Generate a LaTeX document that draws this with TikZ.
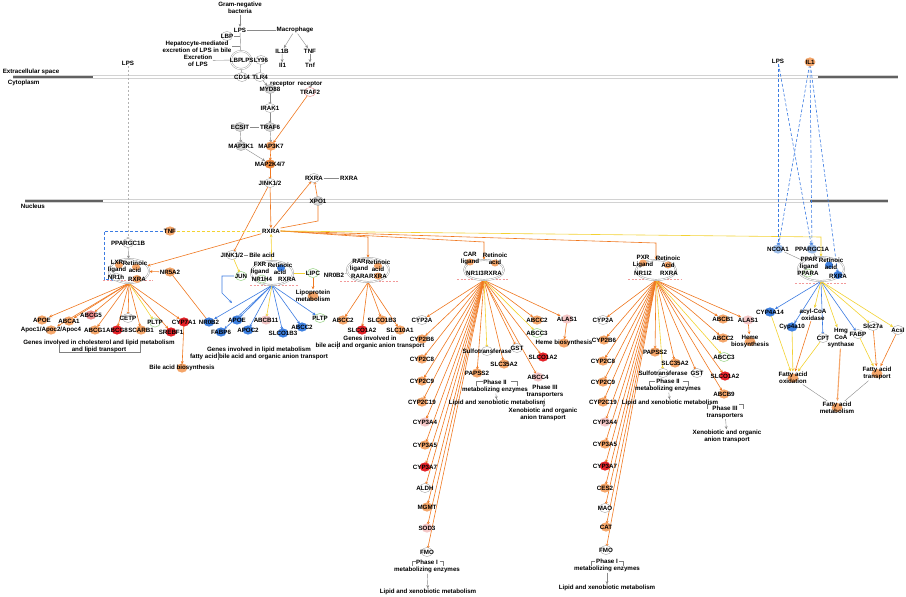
\documentclass[tikz,border=0pt]{standalone}
\usepackage{fontspec}
\setmainfont{Liberation Sans}
\usetikzlibrary{arrows.meta,shapes.geometric}
\pgfdeclarelayer{back}
\pgfsetlayers{back,main}
\definecolor{orl}{HTML}{F5A66A}
\definecolor{ord}{HTML}{EE8A40}
\definecolor{rdf}{HTML}{E52228}
\definecolor{pkf}{HTML}{F4C7C7}
\definecolor{pkm}{HTML}{E98A8A}
\definecolor{pkd}{HTML}{F29A9A}
\definecolor{blf}{HTML}{3E80E0}
\definecolor{lbf}{HTML}{9DBDE8}
\definecolor{gyf}{HTML}{D6D6D6}
\definecolor{grl}{HTML}{A6D995}
\definecolor{eor}{HTML}{F07820}
\definecolor{eye}{HTML}{F3D232}
\definecolor{ebl}{HTML}{3C7CE2}
\definecolor{egy}{HTML}{8A8A8A}
\tikzset{
  lbl/.style={font=\fontsize{6.2}{7}\selectfont\bfseries, inner sep=0.6pt, align=center, text=black},
  cpx/.style={ellipse, draw=gray!75, double=white, double distance=0.9pt, line width=0.45pt, inner sep=0pt},
  sor/.style={fill=orl},
  sod/.style={fill=ord},
  srd/.style={fill=rdf},
  spk/.style={fill=pkf},
  spm/.style={fill=pkm},
  sbl/.style={fill=blf},
  slb/.style={fill=lbf},
  sgy/.style={fill=gyf, draw=gray!80, line width=0.3pt},
  swo/.style={fill=white, draw=gray!70, line width=0.4pt},
  sgr/.style={fill=white, draw=grl, line width=0.6pt},
  spo/.style={fill=white, draw=pkm, line width=0.4pt},
  arrtip/.style={-{Stealth[length=3.2pt,width=2.8pt]}},
  eo/.style={draw=eor, line width=0.6pt, arrtip},
  eol/.style={draw=eor, line width=0.6pt},
  ey/.style={draw=eye, line width=0.6pt, arrtip},
  eyl/.style={draw=eye, line width=0.6pt},
  eb/.style={draw=ebl, line width=0.6pt, arrtip},
  eg/.style={draw=egy, line width=0.4pt, arrtip},
  egl/.style={draw=egy, line width=0.4pt},
  ebd/.style={draw=ebl, line width=0.6pt, dash pattern=on 3pt off 2pt, arrtip},
  egd/.style={draw=gray!60, line width=0.7pt, dash pattern=on 2.5pt off 1.5pt, arrtip},
  eyd/.style={draw=eye, line width=0.7pt, dash pattern=on 3pt off 2pt},
  pkdash/.style={draw=pkd, line width=0.6pt, dash pattern=on 2pt off 1.5pt},
  brk/.style={draw=gray, line width=0.4pt},
}
\newcommand\mkg[5]{\path[#4] (#2,#3) ellipse (5.4pt and 4.6pt); \node[lbl] (#1) at (#2,#3) {#5};}
\newcommand\mkt[4]{\node[lbl] (#1) at (#2,#3) {#4};}
\newcommand\mkb[4]{\draw[brk] (#1,#3+5) -- (#1,#3) -- ({(#1+#2)/2-#4},#3); \draw[brk] ({(#1+#2)/2+#4},#3) -- (#2,#3) -- (#2,#3+5);}
\begin{document}
\begin{tikzpicture}[x=1pt,y=-1pt]
\useasboundingbox (0,0) rectangle (906,597);
\begin{pgfonlayer}{back}
\fill[white] (0,0) rectangle (906,597);
\draw[gray!35, line width=0.5pt] (13,75.6) -- (898,75.6) (13,78.4) -- (898,78.4);
\draw[black!62, line width=2.4pt] (13,77) -- (93,77) (818,77) -- (898,77);
\draw[gray!35, line width=0.5pt] (25,199.6) -- (888,199.6) (25,202.4) -- (888,202.4);
\draw[black!62, line width=2.4pt] (25,201) -- (103,201) (810,201) -- (888,201);
\draw[pkdash] (103,280) -- (153,280);
\draw[pkdash] (250,285) -- (298,285);
\draw[pkdash] (340,281) -- (398,281);
\draw[pkdash] (457,279) -- (508,279);
\draw[pkdash] (628,279) -- (682,279);
\draw[pkdash] (795,283) -- (846,283);
\end{pgfonlayer}

\node[lbl, anchor=west] (exsp) at (2,72) {Extracellular space};
\node[lbl, anchor=west] (cyto) at (7,82.5) {Cytoplasm};
\node[lbl, anchor=west] (nucl) at (20,206) {Nucleus};

% complexes
\node[cpx, minimum width=20pt, minimum height=18pt] (cx1) at (241,60) {};
\node[cpx, minimum width=40pt, minimum height=24pt] (lxrcx) at (129,271) {};
\node[cpx, minimum width=42pt, minimum height=24pt] (fxrcx) at (272,273) {};
\node[cpx, minimum width=42pt, minimum height=24pt] (rarcx) at (368,270) {};
\node[cpx, minimum width=40pt, minimum height=20pt] (carcx) at (484,270) {};
\node[cpx, minimum width=40pt, minimum height=20pt] (pxrcx) at (656,270) {};
\node[cpx, minimum width=46pt, minimum height=24pt] (pparcx) at (821,269) {};

% top / cytoplasm
\mkt{gnb}{240}{8}{Gram-negative\\bacteria}
\mkt{lpst}{240}{30}{LPS}
\mkt{mac}{295}{30}{Macrophage}
\mkg{lbp}{227}{36}{swo}{LBP}
\mkt{hep}{197}{46.5}{Hepatocyte-mediated\\excretion of LPS in bile}
\mkt{il1b}{282}{51}{IL1B}
\mkt{tnf}{310}{51}{TNF}
\mkt{exc}{198}{60.5}{Excretion\\of LPS}
\mkt{lbpin}{236}{60}{LBP}
\mkt{lpsin}{247.5}{60}{LPS}
\mkg{ly96}{261}{60}{swo}{LY96}
\mkg{cd14}{242}{77}{swo}{CD14}
\mkg{tlr4}{260}{77}{swo}{TLR4}
\mkt{il1r}{282.5}{75}{Il1\\[11pt]receptor}
\mkt{tnfr}{310}{75}{Tnf\\[11pt]receptor}
\mkg{myd88}{270}{89}{sgy}{MYD88}
\mkg{traf2}{310}{92}{spo}{TRAF2}
\mkg{irak1}{270}{108}{swo}{IRAK1}
\mkg{traf6}{270}{127}{sgy}{TRAF6}
\mkg{ecsit}{240}{127}{sgy}{ECSIT}
\mkg{map3k1}{241}{146}{sgy}{MAP3K1}
\mkg{map3k7}{271}{146}{sor}{MAP3K7}
\mkg{map2k}{270}{164}{sod}{MAP2K4/7}
\mkg{jnk}{270}{183}{swo}{JINK1/2}
\mkg{rxu}{314}{178}{swo}{RXRA}
\mkt{rxr2}{349}{178}{RXRA}
\mkg{xpo1}{318}{201}{sgy}{XPO1}
\mkt{lpsl}{128}{63}{LPS}

% nucleus left
\mkg{pgc1b}{128}{243}{swo}{PPARGC1B}
\mkg{tnfn}{170}{231}{sor}{TNF}
\mkt{rx}{271}{231}{RXRA}
\mkg{jnkn}{232}{255}{swo}{JINK1/2}
\mkt{bile}{262}{255}{Bile acid}
\mkg{jun}{241}{276}{sgr}{JUN}
\mkg{nr5a2}{170}{272}{sor}{NR5A2}
\mkg{lipc}{313}{273}{sgr}{LIPC}
\mkt{nr0b2m}{334}{275}{NR0B2}
\mkg{lipo}{313}{296}{sor}{Lipoprotein\\metabolism}

% complex members
\path[sor] (119,265) ellipse (4pt and 3.5pt); \path[sor] (136,267) ellipse (4pt and 3.5pt);
\path[swo] (116,277) ellipse (4.6pt and 4pt); \path[sor] (137,279) ellipse (4.6pt and 4pt);
\mkt{lxrl}{117}{266.5}{LXR\\ligand}
\mkt{lxra}{135}{266.5}{Retinoic\\acid}
\mkt{nr1h}{116}{277}{NR1h}
\mkt{lxrrx}{137}{279}{RXRA}
\path[sbl] (281,268) ellipse (4pt and 3.5pt); \path[sgr] (262,279) ellipse (4.6pt and 4pt);
\mkt{fxrl}{260}{268.5}{FXR\\ligand}
\mkt{fxra}{280}{268.5}{Retinoic\\acid}
\mkt{nr1h4}{262}{279}{NR1H4}
\mkt{fxrrx}{287}{279}{RXRA}
\path[sor] (378,266) ellipse (4pt and 3.5pt); \path[sor] (378,276) ellipse (4pt and 3.5pt);
\mkt{rarl}{359}{265.5}{RAR\\ligand}
\mkt{rara}{378}{265.5}{Retinoic\\acid}
\mkt{rarar}{360}{276}{RARA}
\mkt{rarrx}{378}{276}{RXRA}
\path[sor] (470,262) ellipse (4pt and 3.5pt); \path[sor] (495,263) ellipse (4pt and 3.5pt);
\mkt{carl}{470}{258.5}{CAR\\ligand}
\mkt{cara}{495}{258.5}{Retinoic\\acid}
\mkt{nr1i3}{475}{273}{NR1I3}
\mkt{carrx}{493}{273}{RXRA}
\path[sor] (643,263) ellipse (4pt and 3.5pt); \path[sor] (668,265) ellipse (4pt and 3.5pt);
\mkt{pxrl}{643}{261.5}{PXR\\Ligand}
\mkt{pxra}{668}{262}{Retinoic\\Acid}
\mkt{nr1i2}{643}{273}{NR1I2}
\mkt{pxrrx}{669}{273}{RXRA}
\path[sbl] (829,265) ellipse (4pt and 3.5pt); \path[sbl] (838,275) ellipse (4.6pt and 4pt); \path[sgr] (808,273) ellipse (4.6pt and 4pt);
\mkt{pparl}{809}{263.5}{PPAR\\ligand}
\mkt{ppara}{831}{263.5}{Retinoic\\acid}
\mkt{pparaa}{808}{273}{PPARA}
\mkt{pparrx}{838}{276}{RXRA}

% LXR targets
\mkg{apoe1}{42}{320}{sor}{APOE}
\mkg{apoc}{51}{330}{sor}{Apoc1/Apoc2/Apoc4}
\mkg{abca1}{69}{321}{sor}{ABCA1}
\mkg{abcg5}{91}{315}{spm}{ABCG5}
\mkg{abcg1}{95}{330}{sor}{ABCG1}
\mkg{abcg8}{117}{330}{srd}{ABCG8}
\mkg{cetp}{128}{318}{swo}{CETP}
\mkg{scarb1}{141}{330}{sor}{SCARB1}
\mkg{pltp1}{155}{322.5}{sgr}{PLTP}
\mkg{srebf1}{171}{332}{srd}{SREBF1}
\mkg{cyp7a1}{184}{322}{srd}{CYP7A1}
\mkg{nr0b2l}{209}{322}{sbl}{NR0B2}
\mkt{genes1}{99}{346}{Genes involved in cholesterol and lipid metabolism\\and lipid transport}
\mkg{bileb}{182}{368}{sor}{Bile acid biosynthesis}
% FXR targets
\mkg{apoe2}{237}{320}{sbl}{APOE}
\mkg{fabp6}{221}{332}{sbl}{FABP6}
\mkg{apoc2}{248}{330}{sbl}{APOC2}
\mkg{abcb11}{266}{320}{spk}{ABCB11}
\mkg{slco1b3a}{283}{333}{sbl}{SLCO1B3}
\mkg{abcc2a}{302}{327}{sbl}{ABCC2}
\mkg{pltp2}{320}{318}{sgr}{PLTP}
\mkt{genes2}{259}{353.5}{Genes involved in lipid metabolism\\fatty acid bile acid and organic anion transport}
% RAR targets
\mkg{abcc2b}{343}{320}{sor}{ABCC2}
\mkg{slco1a2a}{362}{330}{srd}{SLCO1A2}
\mkg{slco1b3b}{382}{320}{sor}{SLCO1B3}
\mkg{slc10a1}{400}{330}{sor}{SLC10A1}
\mkt{genes3}{370}{342.5}{Genes involved in\\bile acid and organic anion transport}

% CAR targets
\mkg{c2a}{422}{320}{swo}{CYP2A}
\mkg{c2b6}{422}{339}{sor}{CYP2B6}
\mkg{c2c8}{422}{359}{sor}{CYP2C8}
\mkg{c2c9}{422}{381}{sor}{CYP2C9}
\mkg{c2c19}{422}{402}{sor}{CYP2C19}
\mkg{c3a4}{425}{422}{spk}{CYP3A4}
\mkg{c3a5}{425}{445}{sor}{CYP3A5}
\mkg{c3a7}{425}{467}{srd}{CYP3A7}
\mkg{caldh}{425}{488}{swo}{ALDH}
\mkg{cmgmt}{427}{507}{sor}{MGMT}
\mkg{csod3}{427}{528}{spk}{SOD3}
\mkg{cfmo}{427}{552}{swo}{FMO}
\mkt{cph1}{427}{566.5}{Phase I\\metabolizing enzymes}
\mkt{clxm1}{428}{592}{Lipid and xenobiotic metabolism}
\mkg{csulf}{487}{351}{swo}{Sulfotransferase}
\mkg{cgst}{517}{348}{swo}{GST}
\mkg{cpap}{477}{373}{sor}{PAPSS2}
\mkg{cslc35}{504}{364}{sor}{SLC35A2}
\mkg{cabcc2}{537}{320}{sor}{ABCC2}
\mkg{cabcc3}{537}{333}{sgr}{ABCC3}
\mkg{calas}{567}{319}{spk}{ALAS1}
\mkg{cheme}{564}{343}{sor}{Heme biosynthesis}
\mkg{cslco}{543}{357}{srd}{SLCO1A2}
\mkg{cabcc4}{538}{377}{spk}{ABCC4}
\mkt{cph3}{545}{391.5}{Phase III\\transporters}
\mkt{cph2}{495}{386.5}{Phase II\\metabolizing enzymes}
\mkt{clxm2}{497}{403}{Lipid and xenobiotic metabolism}
\mkt{cxeno}{543}{414.5}{Xenobiotic and organic\\anion transport}

% PXR targets
\mkg{p2a}{603}{320}{swo}{CYP2A}
\mkg{p2b6}{604}{340}{sor}{CYP2B6}
\mkg{p2c8}{603}{361}{sor}{CYP2C8}
\mkg{p2c9}{603}{382}{sor}{CYP2C9}
\mkg{p2c19}{603}{402}{sor}{CYP2C19}
\mkg{p3a4}{605}{422}{spk}{CYP3A4}
\mkg{p3a5}{605}{444}{sor}{CYP3A5}
\mkg{p3a7}{605}{466}{srd}{CYP3A7}
\mkg{pces2}{605}{488}{sor}{CES2}
\mkg{pmao}{605}{508}{swo}{MAO}
\mkg{pcat}{606}{527}{sor}{CAT}
\mkg{pfmo}{606}{550}{swo}{FMO}
\mkt{pph1}{607}{565.5}{Phase I\\metabolizing enzymes}
\mkt{plxm1}{607}{588}{Lipid and xenobiotic metabolism}
\mkg{ppap}{655}{352}{sor}{PAPSS2}
\mkg{pslc35}{675}{363}{sor}{SLC35A2}
\mkg{psulf}{663}{373}{swo}{Sulfotransferase}
\mkg{pgst}{697}{373}{swo}{GST}
\mkt{pph2}{668}{385.5}{Phase II\\metabolizing enzymes}
\mkt{plxm2}{670}{403}{Lipid and xenobiotic metabolism}
\mkg{pabcb1}{723}{319}{sor}{ABCB1}
\mkg{palas}{748}{320}{spk}{ALAS1}
\mkg{pabcc2}{723}{338}{sor}{ABCC2}
\mkg{pheme}{750}{341.5}{sor}{Heme\\biosynthesis}
\mkg{pabcc3}{724}{357}{sgr}{ABCC3}
\mkg{pslco}{725}{376}{srd}{SLCO1A2}
\mkg{pabcb9}{724}{394}{sor}{ABCB9}
\mkt{pph3}{725}{412}{Phase III\\transporters}
\mkt{pxeno}{727}{436.5}{Xenobiotic and organic\\anion transport}

% PPAR
\mkt{lpsr}{778}{61}{LPS}
\mkg{il1rr}{810}{62}{sor}{IL1}
\mkg{ncoa1}{778}{249}{slb}{NCOA1}
\mkg{pgc1a}{812}{249}{slb}{PPARGC1A}
\mkg{cyp4a14}{770}{312}{sbl}{CYP4A14}
\mkg{cyp4a10}{792}{327}{sbl}{Cyp4a10}
\mkt{acox}{813}{314.5}{acyl-CoA\\oxidase}
\mkg{cpt}{823}{338}{swo}{CPT}
\mkt{hmg}{841}{338}{Hmg\\CoA\\synthase}
\mkg{fabp}{858}{334}{swo}{FABP}
\mkg{slc27a}{873}{326}{swo}{Slc27a}
\mkg{acsl}{898}{330}{swo}{Acsl}
\mkg{fao}{793}{378}{sor}{Fatty acid\\oxidation}
\mkg{fat}{877}{373.5}{sor}{Fatty acid\\transport}
\mkg{fam}{837}{407.5}{sor}{Fatty acid\\metabolism}

\coordinate (junend) at (232,303);

\begin{pgfonlayer}{back}
% brackets
\draw[brk] (59,344) -- (59,352) -- (140,352) -- (140,344);
\draw[brk] (218,352) -- (218,360);
\draw[brk] (337,341) -- (337,349);
\mkb{412}{443}{561}{12}
\mkb{591}{623}{561}{12}
\mkb{476}{517}{381}{14}
\mkb{649}{688}{381}{14}
\mkb{707}{743}{404}{14}
% cytoplasm
\draw[eg] (gnb) -- (lpst);
\draw[egl] (lpst) -- (mac);
\draw[eg] (mac) -- (il1b);
\draw[eg] (mac) -- (tnf);
\draw[eg] (il1b) -- (il1r);
\draw[eg] (tnf) -- (tnfr);
\draw[eg] (tnfr) -- (traf2);
\draw[egl] (lpst) -- (cx1);
\draw[egl] (lbp.east) -- (lbp.east -| lpst);
\draw[egl] (hep.east) -- (hep.east -| lpst);
\draw[egl] (exc) -- (cx1);
\draw[egl] (cx1) -- (cd14);
\draw[egl] (ly96) -- (tlr4);
\draw[eg] (tlr4) -- (myd88);
\draw[eg] (myd88) -- (irak1);
\draw[eg] (irak1) -- (traf6);
\draw[egl] (ecsit) -- (traf6);
\draw[eg] (traf6) -- (map3k7);
\draw[eg] (ecsit) -- (map3k1);
\draw[eg] (map3k1) -- (map2k);
\draw[eo] (traf2) -- (map3k7);
\draw[eo] (map3k7) -- (map2k);
\draw[eo] (map2k) -- (jnk);
\draw[eo] (jnk) -- (rx);
\draw[eo] (jnk) -- (jnkn);
\draw[eo] (rx) -- (rxu);
\draw[eo] (xpo1) -- (rxu);
\draw[eol] (rx.north east) -- (318,221) -- (xpo1);
\draw[egl] (rxu) -- (rxr2);
% nucleus left
\draw[egd] (lpsl) -- (pgc1b);
\draw[eg] (pgc1b) -- (lxrcx);
\draw[ebd] (tnfn.west) -- (104,231) |- (lxrcx.south west);
\draw[eyd] (tnfn) -- (rx);
\draw[eo] (rx) -- (lxrcx);
\draw[eo] (nr5a2) -- (lxrcx);
\draw[eol] (nr5a2) -- (nr0b2l);
\foreach \t in {apoe1,apoc,abca1,abcg5,abcg1,abcg8,cetp,scarb1,srebf1,cyp7a1} \draw[eo] (lxrcx.south) -- (\t);
\draw[ey] (lxrcx.south) -- (pltp1);
\draw[eo] (cyp7a1) -- (bileb);
% FXR
\draw[egl] (jnkn) -- (bile);
\draw[ey] (jnkn) -- (jun);
\draw[eb] (jun.west) -- (222,276) -- (222,293) -- (junend);
\draw[ey] (fxrcx) -- (rx);
\draw[eyl] (fxrcx) -- (lipc);
\draw[eo] (lipc) -- (lipo);
\foreach \t in {nr0b2l,apoe2,fabp6,apoc2,slco1b3a,abcc2a,pltp2} \draw[eb] (fxrcx.south) -- (\t);
\draw[ey] (fxrcx.south) -- (abcb11);
\draw[egl] (nr0b2m) -- (rarcx);
\foreach \t in {abcc2b,slco1a2a,slco1b3b,slc10a1} \draw[eo] (rarcx.south) -- (\t);
% RXRA to receptors
\draw[eo] (rx.east) -- (368,237) -- (rarcx.north);
\draw[eo] (rx.east) -- (484,242) -- (carcx.north);
\draw[eo] (rx.east) -- (656,243) -- (pxrcx.north);
\draw[ey] (rx.east) -- (821,237) -- (pparcx.north);
% CAR
\foreach \t in {c2a,c2b6,c2c8,c2c9,c2c19,c3a4,c3a5,c3a7,caldh,cmgmt,csod3,cfmo,cpap,cslc35,cgst,cabcc2,calas,cslco,cabcc4} \draw[eo] (carcx.south) -- (\t);
\draw[ey] (carcx.south) -- (csulf);
\draw[ey] (carcx.south) -- (cabcc3);
\draw[eo] (calas) -- (cheme);
\draw[eg] (cph1) -- (clxm1);
\draw[eg] (cph2) -- (clxm2);
\draw[eg] (cph3) -- (cxeno);
% PXR
\foreach \t in {p2a,p2b6,p2c8,p2c9,p2c19,p3a4,p3a5,p3a7,pces2,pmao,pcat,pfmo,ppap,pslc35,pgst,pabcb1,palas,pabcc2,pslco,pabcb9} \draw[eo] (pxrcx.south) -- (\t);
\draw[ey] (pxrcx.south) -- (psulf);
\draw[ey] (pxrcx.south) -- (pabcc3);
\draw[eo] (palas) -- (pheme);
\draw[eg] (pph1) -- (plxm1);
\draw[eg] (pph2) -- (plxm2);
\draw[eg] (pph3) -- (pxeno);
% PPAR
\draw[ebd] (lpsr) -- (ncoa1);
\draw[ebd] (lpsr) -- (pgc1a);
\draw[ebd] (il1rr) -- (ncoa1);
\draw[ebd] (il1rr) -- (pgc1a);
\draw[ebd] (il1rr) -- (pparrx);
\draw[egl] (ncoa1) -- (pparcx);
\draw[egl] (pgc1a) -- (pparcx);
\foreach \t in {cyp4a14,cyp4a10,cpt,fabp} \draw[eb] (pparcx.south) -- (\t);
\foreach \t in {acox,hmg,slc27a,acsl} \draw[ey] (pparcx.south) -- (\t);
\draw[ey] (cyp4a14) -- (fao);
\draw[ey] (cyp4a10) -- (fao);
\draw[eo] (acox) -- (fao);
\draw[ey] (cpt) -- (fao);
\draw[eo, draw=orl, line width=1.1pt] (hmg) -- (fam);
\draw[ey] (fabp) -- (fat);
\draw[eo] (slc27a) -- (fat);
\draw[eo] (acsl) -- (fat);
\draw[egl] (fao) -- (fam);
\draw[egl] (fat) -- (fam);
\end{pgfonlayer}
\end{tikzpicture}
\end{document}
